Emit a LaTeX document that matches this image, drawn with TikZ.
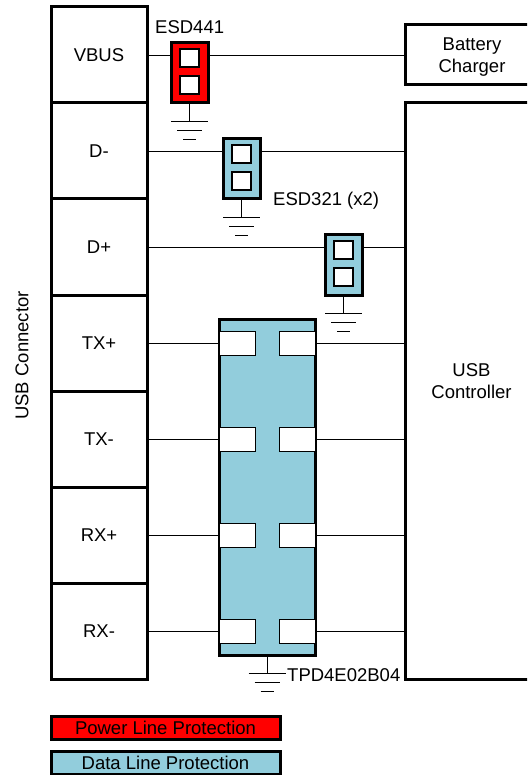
\documentclass[tikz,border=0pt]{standalone}
\usepackage{fontspec}
\setmainfont{Liberation Sans}
\definecolor{tvsblue}{HTML}{92CDDC}
\tikzset{
  wire/.style={line width=0.9pt},
  block/.style={draw, line width=3pt, outer sep=0pt, align=center, inner sep=0pt},
  port/.style={block, minimum width=96pt, minimum height=96pt},
  esdbox/.style={block, minimum width=37pt, minimum height=60pt},
  cell/.style={draw, fill=white, line width=1.5pt, outer sep=0pt, minimum width=19pt, minimum height=18pt},
  pad/.style={draw, fill=white, line width=1pt, outer sep=0pt, minimum width=36pt, minimum height=24pt},
  legend/.style={block, minimum width=229pt, minimum height=23pt},
  gnd/.pic={
    \draw[wire] (-18.5,0) -- (18.5,0);
    \draw[wire] (-12.5,9) -- (12.5,9);
    \draw[wire] (-6.5,18) -- (6.5,18);
  }
}
\begin{document}
\begin{tikzpicture}[x=1pt, y=-1pt, font=\fontsize{18.5}{22}\selectfont]
\clip (0,0) rectangle (527,775);

\node[port] (vbus) at (99,55) {VBUS};
\node[port] (dm) at (99,151) {D-};
\node[port] (dp) at (99,247) {D+};
\node[port] (txp) at (99,343) {TX+};
\node[port] (txm) at (99,439) {TX-};
\node[port] (rxp) at (99,535) {RX+};
\node[port] (rxm) at (99,631) {RX-};
\node[rotate=90] (conn) at (22,355.5) {USB Connector};

\node[block, minimum width=134pt, minimum height=60pt] (charger) at (472,55) {};
\node[align=center, inner sep=0pt] (lcharger) at (472,57) {Battery\\Charger};
\node[block, minimum width=134pt, minimum height=576pt] (ctrl) at (472,391) {};
\node[align=center, inner sep=0pt] (lctrl) at (471.5,381) {USB\\Controller};

\node[esdbox, fill=red] (esdp) at (189.5,73) {};
\node[cell] at (189.5,58) {};
\node[cell] at (189.5,85) {};
\node[esdbox, fill=tvsblue] (esdm) at (241.5,169) {};
\node[cell] at (241.5,154) {};
\node[cell] at (241.5,181) {};
\node[esdbox, fill=tvsblue] (esdd) at (343.5,265) {};
\node[cell] at (343.5,250) {};
\node[cell] at (343.5,277) {};

\node[block, fill=tvsblue, minimum width=96pt, minimum height=336pt] (tpd) at (267,487) {};
\node[pad] (l1) at (237,343) {};
\node[pad] (r1) at (297,343) {};
\node[pad] (l2) at (237,439) {};
\node[pad] (r2) at (297,439) {};
\node[pad] (l3) at (237,535) {};
\node[pad] (r3) at (297,535) {};
\node[pad] (l4) at (237,631) {};
\node[pad] (r4) at (297,631) {};

\draw[wire] (vbus.east) -- (vbus.east -| esdp.west);
\draw[wire] (vbus.east -| esdp.east) -- (charger.west);
\draw[wire] (dm.east) -- (dm.east -| esdm.west);
\draw[wire] (dm.east -| esdm.east) -- (dm.east -| ctrl.west);
\draw[wire] (dp.east) -- (dp.east -| esdd.west);
\draw[wire] (dp.east -| esdd.east) -- (dp.east -| ctrl.west);
\draw[wire] (txp.east) -- (l1.west);
\draw[wire] (r1.east) -- (r1.east -| ctrl.west);
\draw[wire] (txm.east) -- (l2.west);
\draw[wire] (r2.east) -- (r2.east -| ctrl.west);
\draw[wire] (rxp.east) -- (l3.west);
\draw[wire] (r3.east) -- (r3.east -| ctrl.west);
\draw[wire] (rxm.east) -- (l4.west);
\draw[wire] (r4.east) -- (r4.east -| ctrl.west);

\draw[wire] (esdp.south) -- ++(0,18) pic {gnd};
\draw[wire] (esdm.south) -- ++(0,18) pic {gnd};
\draw[wire] (esdd.south) -- ++(0,18) pic {gnd};
\draw[wire] (tpd.south) -- ++(0,18) pic {gnd};

\node[anchor=west, inner sep=0pt] (lesdp) at (155,27) {ESD441};
\node[anchor=west, inner sep=0pt] (lesdm) at (273,201) {ESD321 (x2)};
\node[anchor=west, inner sep=0pt] (ltpd) at (287,675.5) {TPD4E02B04};

\node[legend, fill=red] (power) at (165.5,727.5) {Power Line Protection};
\node[legend, fill=tvsblue] (data) at (165.5,763) {Data Line Protection};
\end{tikzpicture}
\end{document}
